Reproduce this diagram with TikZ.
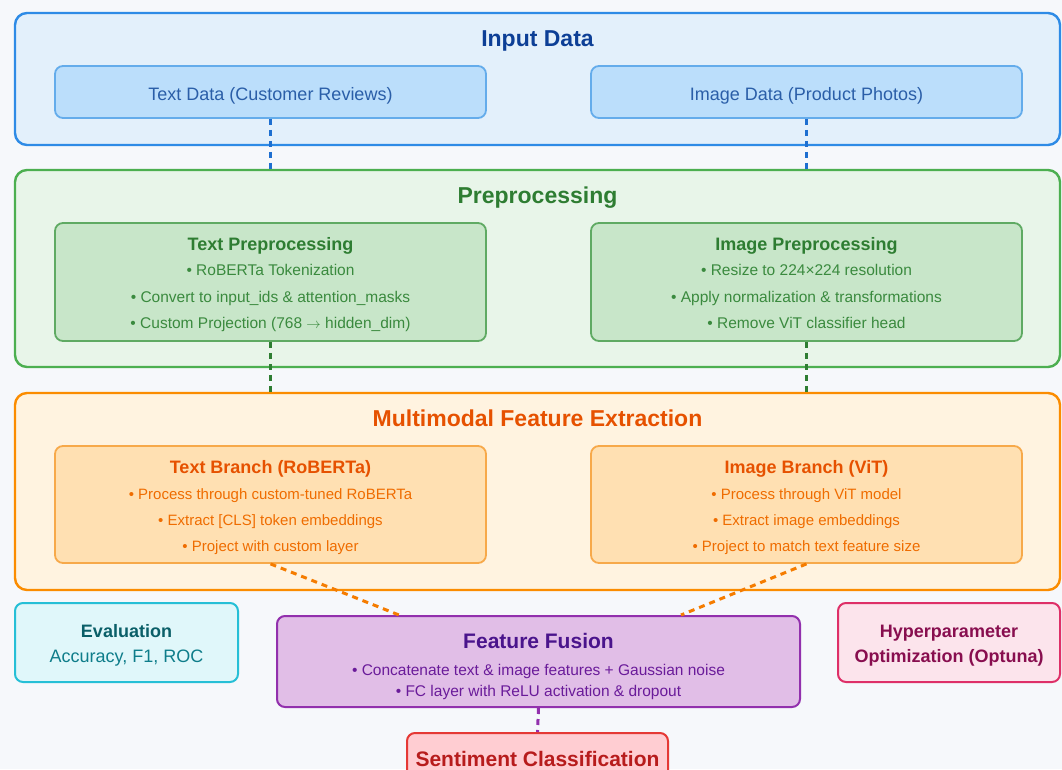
\documentclass[tikz,border=0pt]{standalone}
\usepackage{fontspec}
\setmainfont{Liberation Sans}
\definecolor{bg}{HTML}{F6F8FB}
\definecolor{bOut}{HTML}{2E8BE6}\definecolor{bOutF}{HTML}{E3F0FB}
\definecolor{bIn}{HTML}{64ACEB}\definecolor{bInF}{HTML}{BBDEFB}
\definecolor{bTitle}{HTML}{0D3F96}\definecolor{bTxt}{HTML}{2A5EA8}\definecolor{bDash}{HTML}{1E6FD0}
\definecolor{gOut}{HTML}{4CAF50}\definecolor{gOutF}{HTML}{E8F5E9}
\definecolor{gIn}{HTML}{5FAA63}\definecolor{gInF}{HTML}{C8E6C9}
\definecolor{gTitle}{HTML}{2E7D32}\definecolor{gTxt}{HTML}{3A8A3E}\definecolor{gDash}{HTML}{2E7D32}
\definecolor{oOut}{HTML}{FB8C00}\definecolor{oOutF}{HTML}{FFF3E0}
\definecolor{oIn}{HTML}{F7A94A}\definecolor{oInF}{HTML}{FFE0B2}
\definecolor{oTitle}{HTML}{E65100}\definecolor{oTxt}{HTML}{EF6C00}\definecolor{oDash}{HTML}{F57C00}
\definecolor{cBd}{HTML}{26BFD6}\definecolor{cF}{HTML}{E0F7FA}\definecolor{cT}{HTML}{0A5F68}\definecolor{cT2}{HTML}{0E7D8A}
\definecolor{pBd}{HTML}{9230AD}\definecolor{pF}{HTML}{E1BEE7}\definecolor{pT}{HTML}{4A148C}\definecolor{pT2}{HTML}{6A1B9A}
\definecolor{kBd}{HTML}{DE3068}\definecolor{kF}{HTML}{FCE4EC}\definecolor{kT}{HTML}{880E4F}
\definecolor{rBd}{HTML}{E53935}\definecolor{rF}{HTML}{FFCDD2}\definecolor{rT}{HTML}{B71C1C}
\begin{document}
\begin{tikzpicture}[x=1pt,y=-1pt,
  outerbox/.style={draw, rounded corners=12pt, line width=2.4pt, inner sep=0pt},
  innerbox/.style={draw, rounded corners=8pt, line width=1.8pt, inner sep=0pt},
  conn/.style={line width=3pt, dash pattern=on 6pt off 5pt},
  bigtitle/.style={anchor=base, inner sep=0pt, font=\fontsize{23}{27}\selectfont\bfseries},
  boxtitle/.style={anchor=base, inner sep=0pt, font=\fontsize{18}{22}\selectfont\bfseries},
  plain/.style={anchor=base, inner sep=0pt, font=\fontsize{18}{22}\selectfont},
  gbullet/.style={anchor=base, inner sep=0pt, font=\fontsize{15.5}{18}\selectfont},
  bullet/.style={anchor=base, inner sep=0pt, font=\fontsize{15}{18}\selectfont},
  fbullet/.style={anchor=base, inner sep=0pt, font=\fontsize{15.5}{18}\selectfont},
]
\useasboundingbox (0,0) rectangle (1062,769);
\clip (0,0) rectangle (1062,769);
\fill[bg] (0,0) rectangle (1062,769);

% containers
\node[outerbox, draw=bOut, fill=bOutF, minimum width=1045pt, minimum height=132pt] (input) at (537.5,79) {};
\node[outerbox, draw=gOut, fill=gOutF, minimum width=1045pt, minimum height=197pt] (pre) at (537.5,268.5) {};
\node[outerbox, draw=oOut, fill=oOutF, minimum width=1045pt, minimum height=197pt] (mm) at (537.5,491.5) {};

\node[bigtitle, text=bTitle] (tInput) at (537.5,46) {Input Data};
\node[bigtitle, text=gTitle] (tPre) at (537.5,203) {Preprocessing};
\node[bigtitle, text=oTitle] (tMM) at (537.5,426) {Multimodal Feature Extraction};

% input inner
\node[innerbox, draw=bIn, fill=bInF, minimum width=431pt, minimum height=52pt] (tdata) at (270.5,92) {};
\node[innerbox, draw=bIn, fill=bInF, minimum width=431pt, minimum height=52pt] (idata) at (806.5,92) {};
\node[plain, text=bTxt] (tdataL) at (270.5,100) {Text Data (Customer Reviews)};
\node[plain, text=bTxt] (idataL) at (806.5,100) {Image Data (Product Photos)};

% preprocessing inner
\node[innerbox, draw=gIn, fill=gInF, minimum width=431pt, minimum height=118pt] (tpre) at (270.5,282) {};
\node[innerbox, draw=gIn, fill=gInF, minimum width=431pt, minimum height=118pt] (ipre) at (806.5,282) {};
\node[boxtitle, text=gTitle] (tpre0) at (270.5,250) {Text Preprocessing};
\node[gbullet, text=gTxt] (tpre1) at (270.5,275) {• RoBERTa Tokenization};
\node[gbullet, text=gTxt] (tpre2) at (270.5,302) {• Convert to input\_ids \& attention\_masks};
\node[gbullet, text=gTxt] (tpre3) at (270.5,328) {• Custom Projection (768 $\rightarrow$ hidden\_dim)};
\node[boxtitle, text=gTitle] (ipre0) at (806.5,250) {Image Preprocessing};
\node[gbullet, text=gTxt] (ipre1) at (806.5,275) {• Resize to 224×224 resolution};
\node[gbullet, text=gTxt] (ipre2) at (806.5,302) {• Apply normalization \& transformations};
\node[gbullet, text=gTxt] (ipre3) at (806.5,328) {• Remove ViT classifier head};

% multimodal inner
\node[innerbox, draw=oIn, fill=oInF, minimum width=431pt, minimum height=117pt] (tbr) at (270.5,504.5) {};
\node[innerbox, draw=oIn, fill=oInF, minimum width=431pt, minimum height=117pt] (ibr) at (806.5,504.5) {};
\node[boxtitle, text=oTitle] (tbr0) at (270.5,473) {Text Branch (RoBERTa)};
\node[bullet, text=oTxt] (tbr1) at (270.5,499) {• Process through custom-tuned RoBERTa};
\node[bullet, text=oTxt] (tbr2) at (270.5,525) {• Extract [CLS] token embeddings};
\node[bullet, text=oTxt] (tbr3) at (270.5,551) {• Project with custom layer};
\node[boxtitle, text=oTitle] (ibr0) at (806.5,473) {Image Branch (ViT)};
\node[bullet, text=oTxt] (ibr1) at (806.5,499) {• Process through ViT model};
\node[bullet, text=oTxt] (ibr2) at (806.5,525) {• Extract image embeddings};
\node[bullet, text=oTxt] (ibr3) at (806.5,551) {• Project to match text feature size};

% bottom row
\node[innerbox, draw=cBd, fill=cF, minimum width=223pt, minimum height=79pt, line width=2pt] (eval) at (126.5,642.5) {};
\node[boxtitle, text=cT] (eval0) at (126.5,637) {Evaluation};
\node[plain, text=cT2] (eval1) at (126.5,662) {Accuracy, F1, ROC};

\node[innerbox, draw=kBd, fill=kF, minimum width=222pt, minimum height=79pt, line width=2pt] (hyp) at (949,642.5) {};
\node[boxtitle, text=kT] (hyp0) at (949,637) {Hyperparameter};
\node[boxtitle, text=kT] (hyp1) at (949,662) {Optimization (Optuna)};

\node[innerbox, draw=pBd, fill=pF, minimum width=523pt, minimum height=91pt, line width=2pt] (fus) at (538.5,661.5) {};
\node[boxtitle, text=pT, font=\fontsize{21}{24}\selectfont\bfseries] (fus0) at (538.5,648) {Feature Fusion};
\node[fbullet, text=pT2] (fus1) at (538.5,675) {• Concatenate text \& image features + Gaussian noise};
\node[fbullet, text=pT2] (fus2) at (538.5,696) {• FC layer with ReLU activation \& dropout};

\node[innerbox, draw=rBd, fill=rF, minimum width=261pt, minimum height=60pt, line width=2pt] (sent) at (537.5,763) {};
\node[boxtitle, text=rT, font=\fontsize{21}{24}\selectfont\bfseries] (sent0) at (537.5,766) {Sentiment Classification};

% connectors
\draw[conn, draw=bDash] (tdata.south) -- (tdata.south |- pre.north);
\draw[conn, draw=bDash] (idata.south) -- (idata.south |- pre.north);
\draw[conn, draw=gDash] (tpre.south) -- (tpre.south |- mm.north);
\draw[conn, draw=gDash] (ipre.south) -- (ipre.south |- mm.north);
\draw[conn, draw=oDash] (tbr.south) -- ([xshift=123pt]fus.north west);
\draw[conn, draw=oDash] (ibr.south) -- ([xshift=-120pt]fus.north east);
\draw[conn, draw=pBd] (fus.south) -- (sent.north);
\end{tikzpicture}
\end{document}
